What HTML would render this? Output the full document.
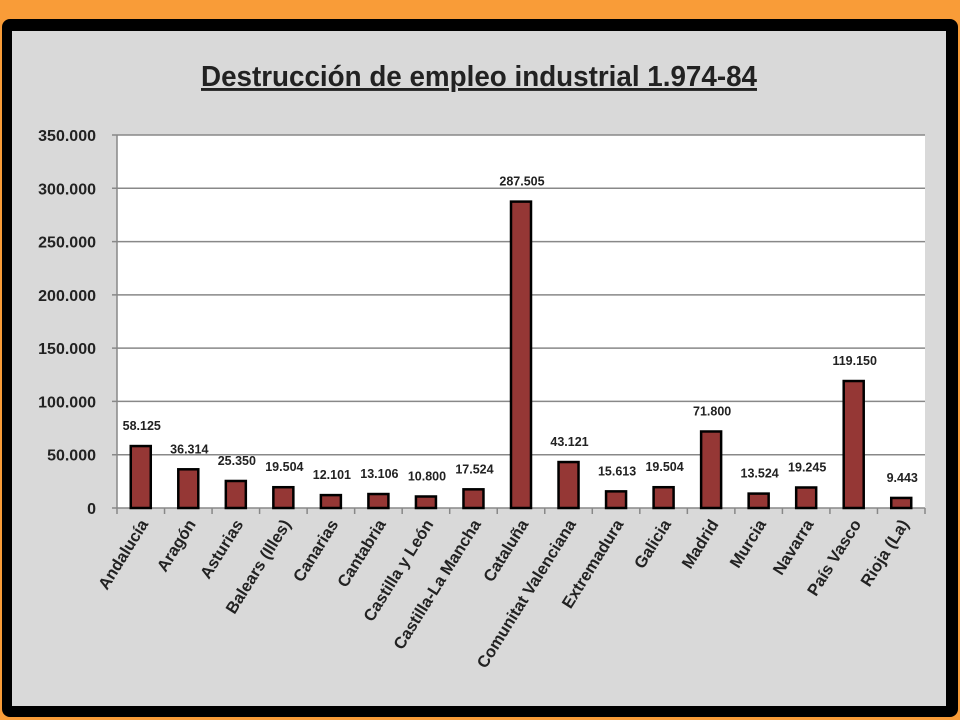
<!DOCTYPE html>
<html><head><meta charset="utf-8"><style>
body{margin:0;width:960px;height:720px;background:#F99C38;overflow:hidden;font-family:"Liberation Sans",sans-serif}
#frame{position:absolute;left:2px;top:19px;width:956px;height:698px;background:#000;border-radius:8px}
#panel{position:absolute;left:12px;top:31px;width:934px;height:675px;background:#D9D9D9}
svg{position:absolute;left:0;top:0}
</style></head><body>
<div id="frame"></div>
<div id="panel"></div>
<svg id="chart" width="960" height="720"></svg>
<script>
const categories=["Andalucía","Aragón","Asturias","Balears (Illes)","Canarias","Cantabria","Castilla y León","Castilla-La Mancha","Cataluña","Comunitat Valenciana","Extremadura","Galicia","Madrid","Murcia","Navarra","País Vasco","Rioja (La)"];
const values=[58125,36314,25350,19504,12101,13106,10800,17524,287505,43121,15613,19504,71800,13524,19245,119150,9443];
const valueLabels=["58.125","36.314","25.350","19.504","12.101","13.106","10.800","17.524","287.505","43.121","15.613","19.504","71.800","13.524","19.245","119.150","9.443"];
const yTicks=[0,50000,100000,150000,200000,250000,300000,350000];
const yTickLabels=["0","50.000","100.000","150.000","200.000","250.000","300.000","350.000"];
const NS="http://www.w3.org/2000/svg";
const svg=document.getElementById('chart');
const L=117,R=925,T=135,B=508,YMAX=350000;
const y=v=>B-(v/YMAX)*(B-T);
const bw=(R-L)/categories.length;
const x=i=>L+bw*(i+0.5);
function mk(t,a){const e=document.createElementNS(NS,t);for(const k in a)e.setAttribute(k,a[k]);svg.appendChild(e);return e;}
let e=mk('rect',{x:L,y:T,width:R-L,height:B-T,fill:'#fff'});


let t=mk('text',{x:479,y:86,'text-anchor':'middle','font-size':29,'font-weight':'bold',fill:'#222','text-decoration':'underline',textLength:556,lengthAdjust:'spacingAndGlyphs'});
t.textContent='Destrucción de empleo industrial 1.974-84';


yTicks.forEach((v,i)=>{
  const g=mk('line',{x1:L-5,x2:R,y1:y(v),y2:y(v),stroke:'#888','stroke-width':1.5});
  
  
  const l=mk('text',{x:L-21,y:y(v)+6,'text-anchor':'end','font-size':16,'font-weight':'bold',fill:'#222'});
  l.textContent=yTickLabels[i];
  
  
});
e=mk('line',{x1:L,x2:L,y1:T,y2:B,stroke:'#888','stroke-width':1.5});


for(let i=0;i<=categories.length;i++){
  const tk=mk('line',{x1:L+bw*i,x2:L+bw*i,y1:B,y2:B+6,stroke:'#888','stroke-width':1.5});
  
  
}
categories.forEach((c,i)=>{
  const b=mk('rect',{x:x(i)-10,y:y(values[i]),width:20,height:B-y(values[i]),fill:'#953735',stroke:'#000','stroke-width':2.5});
  
  
  const v=mk('text',{x:x(i)+1,y:y(values[i])-16,'text-anchor':'middle','font-size':12.5,'font-weight':'bold',fill:'#222'});
  v.textContent=valueLabels[i];
  
  
  const ax=x(i)+8, ay=B+16;
  const cl=mk('text',{x:ax,y:ay,'text-anchor':'end','font-size':16.5,'font-weight':'bold',fill:'#222',transform:`rotate(-58 ${ax} ${ay})`});
  cl.textContent=c;
  
  
});
</script>
</body></html>
